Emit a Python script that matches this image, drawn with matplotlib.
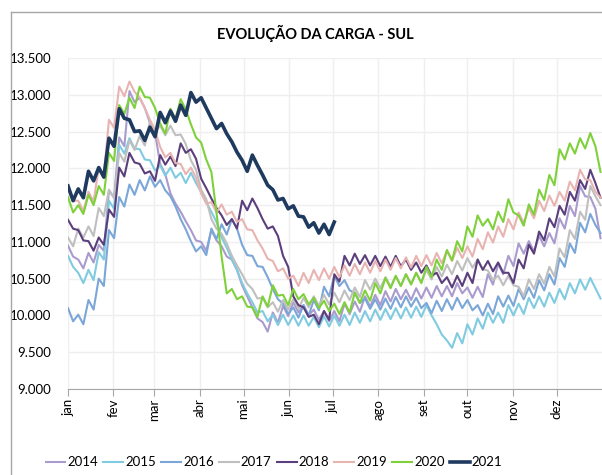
import numpy as np
import matplotlib
matplotlib.use('Agg')
import matplotlib.pyplot as plt
from matplotlib.lines import Line2D
from matplotlib.ticker import FuncFormatter

plt.rcParams['font.family'] = ['Lato', 'DejaVu Sans']

# month start (day of year) and labels
month_days = [0, 31, 59, 90, 120, 151, 181, 212, 243, 273, 304, 334]
month_labels = ['jan', 'fev', 'mar', 'abr', 'mai', 'jun', 'jul', 'ago', 'set', 'out', 'nov', 'dez']

# half-week readings (weekday high, weekend low), MW
carga_2014 = [10950, 10800, 10760, 10640, 10850, 10720, 10960, 10880, 11700, 11600, 12420, 12300, 13050, 12900, 12960, 12820,
              12620, 12480, 12060, 11920, 11660, 11520, 11410, 11280, 11160, 11020, 11000, 10880, 11160, 11020, 10940, 10800,
              10760, 10620, 10410, 10260, 10110, 9960, 9910, 9780, 10040, 9900, 10130, 9990, 10180, 10040, 10140, 10000,
              10080, 9940, 10060, 9920, 10060, 9920, 10160, 10020, 10190, 10050, 10260, 10120, 10280, 10140, 10330, 10190,
              10360, 10220, 10350, 10210, 10370, 10230, 10380, 10240, 10400, 10260, 10400, 10260, 10440, 10300, 10380, 10240,
              10390, 10250, 10560, 10420, 10700, 10560, 10810, 10670, 10980, 10840, 11010, 10870, 11080, 10940, 11120, 10980,
              11320, 11180, 11490, 11350, 11760, 11620, 11610, 11450, 11050]
carga_2015 = [10810, 10660, 10580, 10440, 10620, 10480, 10860, 10760, 11560, 11450, 12320, 12200, 12410, 12270, 12260, 12120,
              12110, 11970, 12040, 11900, 12010, 11870, 11940, 11800, 11940, 11800, 11680, 11540, 11410, 11270, 11060, 10920,
              10760, 10620, 10440, 10300, 10180, 10040, 10060, 9920, 10010, 9870, 10010, 9870, 10000, 9860, 10000, 9860,
              9980, 9840, 9990, 9850, 10000, 9860, 10010, 9870, 10040, 9900, 10060, 9920, 10080, 9940, 10090, 9950,
              10100, 9960, 10110, 9970, 10120, 9980, 10140, 10000, 9880, 9740, 9660, 9560, 9760, 9620, 9880, 9740,
              9960, 9820, 10040, 9900, 10040, 9900, 10140, 10000, 10160, 10020, 10240, 10100, 10260, 10120, 10310, 10170,
              10360, 10220, 10440, 10300, 10490, 10350, 10510, 10370, 10230]
carga_2016 = [10100, 9920, 10010, 9880, 10210, 10080, 10500, 10400, 11160, 11050, 11610, 11480, 11780, 11640, 11840, 11700,
              11890, 11750, 11840, 11700, 11620, 11480, 11310, 11170, 11010, 10870, 10940, 10820, 11180, 11040, 11240, 11100,
              11310, 11180, 10960, 10820, 10810, 10670, 10660, 10520, 10360, 10220, 10160, 10020, 10110, 9970, 10140, 10000,
              10210, 10070, 10390, 10260, 10540, 10400, 10480, 10340, 10310, 10170, 10230, 10090, 10220, 10080, 10230, 10090,
              10250, 10110, 10260, 10120, 10240, 10100, 10170, 10030, 10200, 10060, 10220, 10080, 10240, 10100, 10210, 10070,
              10140, 10000, 10160, 10020, 10260, 10120, 10270, 10130, 10360, 10220, 10380, 10240, 10480, 10340, 10560, 10420,
              10780, 10660, 10980, 10850, 11260, 11130, 11380, 11230, 11120]
carga_2017 = [11060, 10940, 11180, 11060, 11210, 11080, 11460, 11350, 11710, 11600, 12210, 12090, 12380, 12250, 12440, 12310,
              12640, 12500, 12580, 12450, 12580, 12450, 12460, 12330, 12110, 11980, 11710, 11580, 11310, 11180, 11110, 10980,
              10810, 10680, 10560, 10430, 10360, 10230, 10240, 10110, 10180, 10050, 10210, 10080, 10220, 10090, 10240, 10110,
              10260, 10130, 10280, 10150, 10310, 10180, 10340, 10210, 10380, 10250, 10480, 10350, 10500, 10370, 10520, 10390,
              10530, 10400, 10560, 10430, 10580, 10450, 10620, 10490, 10660, 10530, 10690, 10560, 10740, 10610, 10780, 10650,
              10760, 10630, 10610, 10480, 10540, 10410, 10540, 10410, 10390, 10260, 10490, 10360, 10560, 10430, 10660, 10530,
              10910, 10790, 11160, 11040, 11410, 11300, 11760, 11620, 11500]
carga_2018 = [11300, 11180, 11160, 11020, 11010, 10880, 11060, 10960, 11440, 11340, 12010, 11890, 12210, 12080, 12060, 11930,
              11960, 11830, 12180, 12050, 12160, 12030, 12340, 12210, 12260, 12130, 11860, 11730, 11590, 11460, 11360, 11230,
              11310, 11180, 11560, 11430, 11590, 11460, 11310, 11180, 11210, 11080, 10810, 10660, 10260, 10140, 10110, 9980,
              10010, 9880, 10060, 9940, 10560, 10460, 10810, 10680, 10840, 10700, 10820, 10680, 10810, 10670, 10800, 10660,
              10810, 10670, 10760, 10620, 10720, 10580, 10680, 10540, 10580, 10440, 10520, 10380, 10540, 10400, 10580, 10440,
              10760, 10620, 10740, 10600, 10720, 10580, 10580, 10440, 10760, 10640, 10960, 10840, 11140, 11020, 11320, 11200,
              11490, 11370, 11680, 11560, 11840, 11720, 11980, 11800, 11600]
carga_2019 = [11710, 11560, 11560, 11420, 11680, 11550, 12010, 11900, 12660, 12550, 13110, 12980, 13180, 13040, 12960, 12820,
              12660, 12520, 12290, 12150, 12210, 12070, 12060, 11920, 12010, 11870, 11660, 11520, 11540, 11400, 11510, 11370,
              11410, 11270, 11310, 11170, 11160, 11020, 10910, 10770, 10740, 10600, 10640, 10500, 10540, 10400, 10580, 10440,
              10620, 10480, 10640, 10500, 10660, 10520, 10680, 10540, 10700, 10560, 10720, 10580, 10740, 10600, 10760, 10620,
              10780, 10640, 10790, 10650, 10810, 10670, 10820, 10680, 10850, 10710, 10880, 10740, 10920, 10780, 10940, 10800,
              11040, 10900, 11130, 10990, 11210, 11070, 11310, 11170, 11400, 11260, 11460, 11320, 11560, 11420, 11630, 11490,
              11680, 11560, 11820, 11700, 11980, 11850, 11840, 11680, 11600]
carga_2020 = [11610, 11400, 11500, 11380, 11640, 11500, 11760, 11640, 12210, 12100, 12860, 12740, 12960, 12820, 13110, 12970,
              12960, 12820, 12610, 12470, 12810, 12670, 12940, 12800, 12600, 12420, 12350, 12120, 11950, 11400, 10800, 10300,
              10360, 10220, 10260, 10120, 10110, 9980, 10260, 10120, 10410, 10270, 10280, 10140, 10360, 10220, 10290, 10150,
              10240, 10100, 10200, 10060, 10160, 10020, 10180, 10040, 10310, 10170, 10340, 10200, 10440, 10300, 10510, 10370,
              10540, 10400, 10560, 10420, 10580, 10440, 10660, 10520, 10760, 10620, 10890, 10750, 11010, 10870, 11210, 11070,
              11360, 11220, 11310, 11170, 11410, 11270, 11580, 11400, 11360, 11220, 11510, 11370, 11710, 11570, 11910, 11770,
              12260, 12120, 12340, 12200, 12410, 12270, 12480, 12300, 11950]
carga_2021 = [11760, 11560, 11720, 11600, 11960, 11830, 12010, 11880, 12410, 12300, 12810, 12680, 12660, 12500, 12510, 12380,
              12560, 12430, 12760, 12620, 12780, 12640, 12860, 12720, 13030, 12900, 12960, 12820, 12680, 12540, 12610, 12470,
              12360, 12220, 12110, 11960, 12180, 12040, 11910, 11770, 11710, 11570, 11590, 11450, 11490, 11350, 11340, 11200,
              11260, 11120, 11240, 11100, 11270]

anos = ['2014', '2015', '2016', '2017', '2018', '2019', '2020', '2021']
series = [carga_2014, carga_2015, carga_2016, carga_2017, carga_2018, carga_2019, carga_2020, carga_2021]
cores = ['#a99bce', '#80cbe0', '#7ba6d8', '#bfbfbf', '#5b3f7c', '#e8b4b2', '#7fd13b', '#1f3a5f']
larguras = [1.5, 1.5, 1.5, 1.5, 1.5, 1.5, 1.5, 2.6]

fig = plt.figure(figsize=(6.02, 4.75), dpi=100)
ax = fig.add_axes([68 / 602, 1 - 389 / 475, 1 - 68 / 602, (389 - 58) / 475])

for ano, valores, cor, lw in zip(anos, series, cores, larguras):
    dias = np.arange(len(valores)) * 3.5
    ax.plot(dias, valores, color=cor, lw=lw, label=ano, solid_joinstyle='round')

ax.set_xlim(0, 365)
ax.set_ylim(9000, 13500)
ax.set_yticks(np.arange(9000, 13501, 500))
ax.yaxis.set_major_formatter(FuncFormatter(lambda v, p: '{:,.0f}'.format(v).replace(',', '.')))
ax.set_xticks(month_days)
ax.set_xticklabels(month_labels, rotation=90, va='top', ha='center')

ax.grid(True, color='#efefef', lw=1)
ax.set_axisbelow(True)
for s in ['top', 'right', 'left']:
    ax.spines[s].set_visible(False)
ax.spines['bottom'].set_color('#a6a6a6')
ax.tick_params(axis='y', length=0, labelsize=9.5, pad=12, colors='#000000')
ax.tick_params(axis='x', length=5, color='#a6a6a6', labelsize=9.5, pad=2)

fig.text(0.523, 0.93, 'EVOLUÇÃO DA CARGA - SUL', ha='center', va='center',
         fontsize=10.5, fontweight='bold')

# chart frame (top and left edges only visible)
fig.add_artist(Line2D([11 / 602, 1], [1 - 12 / 475, 1 - 12 / 475], color='#a6a6a6', lw=1))
fig.add_artist(Line2D([11 / 602, 11 / 602], [0, 1 - 12 / 475], color='#a6a6a6', lw=1))

fig.legend(loc='center', bbox_to_anchor=(0.455, 0.027), ncol=8, frameon=False,
           fontsize=9.5, handlelength=1.5, handletextpad=0.15, columnspacing=0.4)

fig.savefig('out.png', dpi=100)
